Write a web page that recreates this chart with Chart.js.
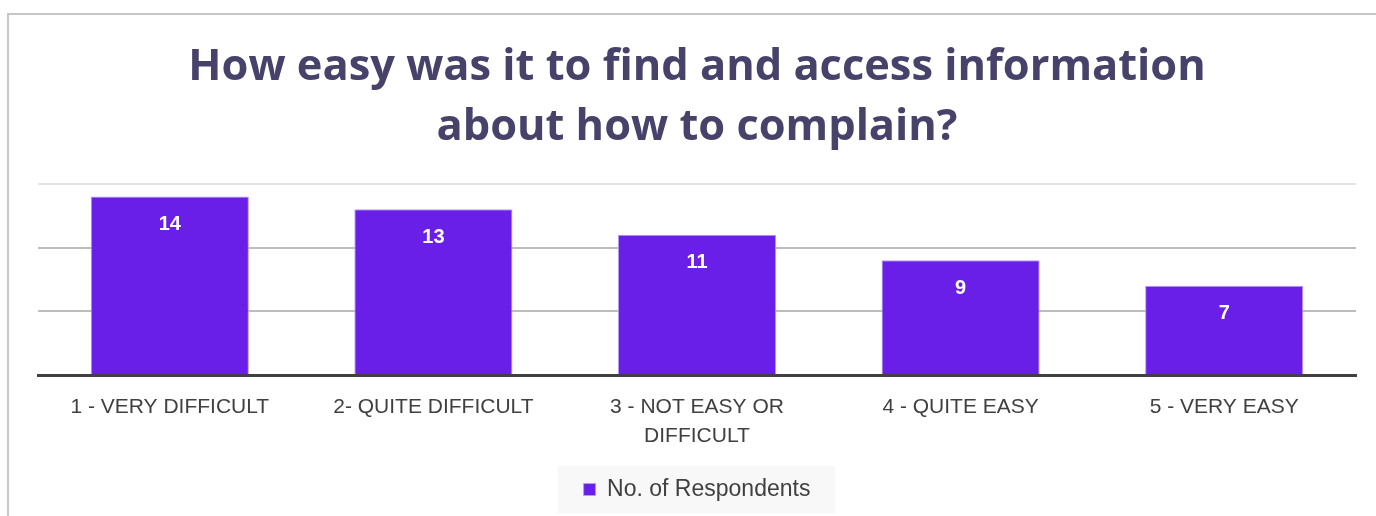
<!DOCTYPE html>
<html>
<head>
<meta charset="utf-8">
<script src="https://cdn.jsdelivr.net/npm/chart.js@4.4.1/dist/chart.umd.min.js"></script>
<style>
  html, body { margin: 0; padding: 0; background: #fff; }
  body { width: 1376px; height: 516px; overflow: hidden; position: relative; }
  .frame { position: absolute; left: 7px; top: 13px; width: 1400px; height: 540px; border: 2px solid #c6c6c6; }
  .wrap { position: absolute; left: 0; top: 0; width: 1376px; height: 516px; }
</style>
</head>
<body>
<div class="frame"></div>
<div class="wrap"><canvas id="chart" width="1376" height="516"></canvas></div>
<script>
  const categories = [
    '1 - VERY DIFFICULT',
    '2- QUITE DIFFICULT',
    ['3 - NOT EASY OR', 'DIFFICULT'],
    '4 - QUITE EASY',
    '5 - VERY EASY'
  ]
  const respondents = [14, 13, 11, 9, 7]
  const seriesName = 'No. of Respondents'
  const titleLines = ['How easy was it to find and access information', 'about how to complain?']

  const titleFont = '"Open Sans", "Noto Sans", sans-serif'
  const bodyFont = '"Liberation Sans", Arial, sans-serif'

  // white counts drawn just inside the top of each bar
  const valueLabels = {
    id: 'valueLabels',
    afterDatasetsDraw(chart) {
      const { ctx } = chart
      const meta = chart.getDatasetMeta(0)
      ctx.save()
      ctx.fillStyle = '#ffffff'
      ctx.font = 'bold 20px ' + bodyFont
      ctx.textAlign = 'center'
      ctx.textBaseline = 'middle'
      meta.data.forEach((bar, i) => {
        ctx.fillText(String(chart.data.datasets[0].data[i]), bar.x, bar.y + 28)
      })
      ctx.restore()
    }
  }

  // pale panel behind the legend item
  const legendPanel = {
    id: 'legendPanel',
    beforeDraw(chart) {
      const lg = chart.legend
      if (!lg || !lg.legendHitBoxes || !lg.legendHitBoxes.length) return
      const hb = lg.legendHitBoxes[0]
      const { ctx } = chart
      ctx.save()
      ctx.fillStyle = '#f8f8f8'
      ctx.fillRect(hb.left - 26, hb.top - 12, hb.width + 51, hb.height + 24)
      ctx.restore()
    }
  }

  new Chart(document.getElementById('chart'), {
    type: 'bar',
    data: {
      labels: categories,
      datasets: [{
        label: seriesName,
        data: respondents,
        backgroundColor: '#6a1fe9',
        borderColor: '#b49cf2',
        borderWidth: 1,
        categoryPercentage: 1,
        barPercentage: 0.6
      }]
    },
    options: {
      responsive: false,
      animation: false,
      layout: { padding: { left: 38, right: 20, top: 0, bottom: 5 } },
      scales: {
        x: {
          grid: { display: false },
          border: { display: true, color: '#404040', width: 3 },
          ticks: { color: '#404040', font: { family: bodyFont, size: 21, lineHeight: 1.4 }, padding: 9, maxRotation: 0 },
          // a little breathing room between the labels and the legend
          afterFit(scale) { scale.height += 5 }
        },
        y: {
          min: 0,
          max: 15,
          ticks: { stepSize: 5, display: false },
          grid: { color: (c) => c.tick.value === 15 ? '#e4e4e4' : '#bdbdbd', lineWidth: 2, drawTicks: false },
          border: { display: false }
        }
      },
      plugins: {
        title: {
          display: true,
          text: titleLines,
          color: '#46426a',
          font: { family: titleFont, size: 43.4, weight: 'bold', lineHeight: 1.38 },
          padding: { top: 38, bottom: 26 }
        },
        legend: {
          position: 'bottom',
          labels: {
            color: '#404040',
            font: { family: bodyFont, size: 23 },
            boxWidth: 12,
            boxHeight: 12,
            padding: 13
          }
        },
        tooltip: { enabled: false }
      }
    },
    plugins: [valueLabels, legendPanel]
  })
</script>
</body>
</html>
